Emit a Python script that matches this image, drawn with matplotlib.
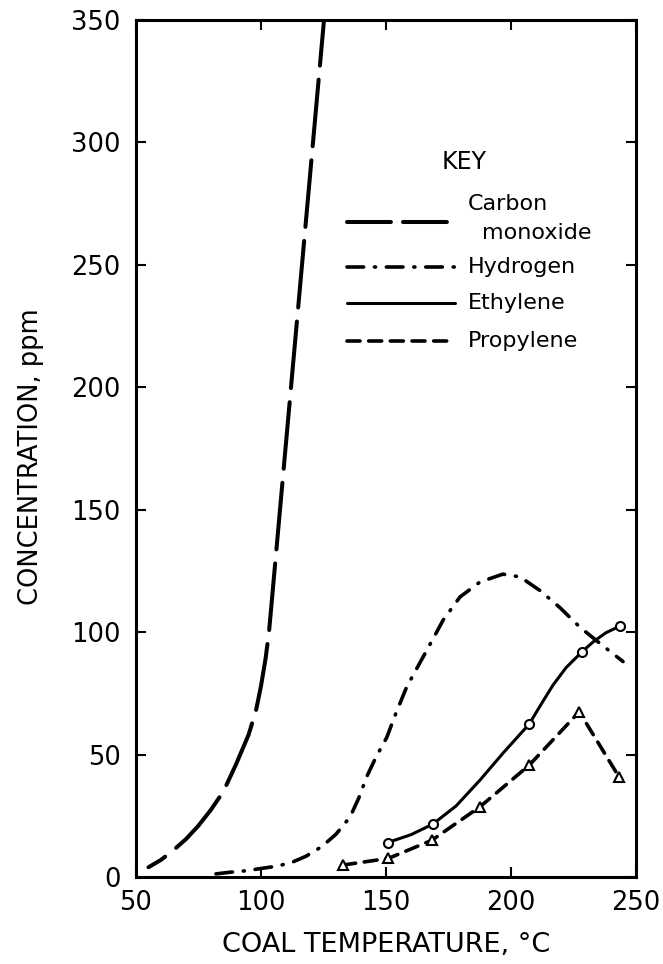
import matplotlib
matplotlib.use("Agg")
import matplotlib.pyplot as plt

# carbon monoxide (no markers); runs off the top of the frame
co_temp = [55, 60, 65, 70, 75, 80, 85, 90, 95, 98, 100, 101.8, 103.2,
           107.6, 112, 116.4, 120.8, 125.2, 127]
co_ppm = [4, 7, 11, 15.5, 21, 27.5, 35, 46, 58, 68, 78, 89, 100,
          150, 200, 250, 300, 350, 370]

# hydrogen
h2_temp = [82, 88, 94.4, 100, 106.8, 112.8, 118, 124.4, 130, 135.6, 139, 142.3, 146, 150.3,
           154, 158.3, 164.9, 172.9, 179.6, 187.6, 196.7, 203.6, 211.6, 219.6, 227.6, 235.6, 244.8]
h2_ppm = [1.3, 2, 2.6, 3.5, 4.5, 6.2, 8.5, 12.5, 17.5, 24.5, 32, 41, 49, 57,
          67, 77.7, 90, 105, 114.4, 120.5, 123.7, 122.6, 117, 110, 102, 95.4, 88]

# ethylene measured points and traced curve
eth_temp = [150.7, 168.7, 207.3, 228.3, 243.6]
eth_ppm = [14.1, 21.6, 62.5, 91.9, 102.5]
eth_curve_temp = [150.7, 160, 168.7, 178, 187.6, 196.8, 207.3, 212, 216.8, 222, 228.3, 232.8, 238, 243.6]
eth_curve_ppm = [14.1, 17.3, 21.6, 29, 39.6, 50.6, 62.5, 70.5, 78.4, 85.5, 91.9, 96, 99.8, 102.5]

# propylene measured points
pro_temp = [132.7, 150.9, 168.3, 187.6, 207.3, 227.3, 243.2]
pro_ppm = [4.9, 7.6, 15, 28.7, 45.7, 67.5, 40.9]

x_ticks = [50, 100, 150, 200, 250]
y_ticks = [0, 50, 100, 150, 200, 250, 300, 350]

co_style = (0, (16.6, 3.5))
co_key_style = (0, (10.9, 3.0))
h2_style = (0, (4.6, 3.0, 0.3, 3.0))
pro_style = (0, (3.6, 2.4))

fig = plt.figure(figsize=(6.63, 9.64), dpi=100)
ax = fig.add_axes([0.2051, 0.0902, 0.7542, 0.8890])

# drawn top-down so a dash, not a gap, meets the top of the frame
ax.plot(co_temp[::-1], co_ppm[::-1], color="black", lw=2.9, linestyle=co_style,
        dash_capstyle="round")
ax.plot(h2_temp, h2_ppm, color="black", lw=2.6, linestyle=h2_style, dash_capstyle="round")
ax.plot(eth_curve_temp, eth_curve_ppm, color="black", lw=2.2)
ax.plot(eth_temp, eth_ppm, linestyle="none", marker="o", ms=6.5, mfc="white", mec="black", mew=1.5)
ax.plot(pro_temp, pro_ppm, color="black", lw=2.6, linestyle=pro_style, dash_capstyle="round",
        marker="^", ms=7.5, mfc="white", mec="black", mew=1.5)

ax.set_xlim(50, 250)
ax.set_ylim(0, 350)
ax.set_xticks(x_ticks)
ax.set_yticks(y_ticks)

for s in ax.spines.values():
    s.set_linewidth(2.2)
ax.tick_params(direction="in", length=7, width=1.5, top=True, right=True,
               labelsize=18.5, pad=9)
ax.tick_params(axis="y", pad=11)

ax.set_xlabel("COAL TEMPERATURE, °C", fontsize=19.5, labelpad=12)
ax.set_ylabel("CONCENTRATION, ppm", fontsize=18.5)
ax.yaxis.set_label_coords(-0.184, 0.49)

# key drawn by hand, in axes fractions
x0, x1, xt = 0.423, 0.638, 0.663
ax.text(0.656, 0.834, "KEY", transform=ax.transAxes, ha="center", va="center", fontsize=17)
ax.text(xt, 0.785, "Carbon", transform=ax.transAxes, ha="left", va="center", fontsize=16)
ax.text(xt + 0.028, 0.752, "monoxide", transform=ax.transAxes, ha="left", va="center", fontsize=16)
keys = [(0.764, "", co_key_style, 2.9),
        (0.712, "Hydrogen", h2_style, 2.6),
        (0.670, "Ethylene", "-", 2.2),
        (0.625, "Propylene", pro_style, 2.6)]
for yk, label, style, lw in keys:
    ax.plot([x0, x1], [yk, yk], transform=ax.transAxes, color="black", lw=lw,
            linestyle=style, dash_capstyle="round", solid_capstyle="round")
    if label:
        ax.text(xt, yk, label, transform=ax.transAxes, ha="left", va="center", fontsize=16)

fig.savefig("out.png", dpi=100)
